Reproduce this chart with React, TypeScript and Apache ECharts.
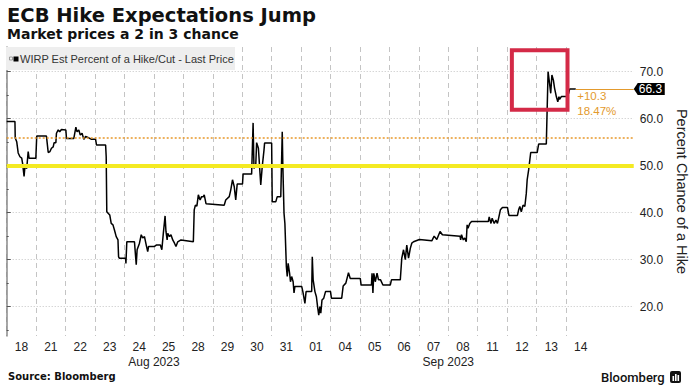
import React, { useEffect, useRef } from "react";
import * as echarts from "echarts";

// ---------- data ----------
const dayLabels = ["18", "21", "22", "23", "24", "25", "28", "29", "30", "31", "01", "04", "05", "06", "07", "08", "11", "12", "13", "14"];
const monthNames = ["Aug 2023", "Sep 2023"];
const monthCenters = [5, 15]; // trading-day positions where the month labels sit
const yMajorTicks = [20, 30, 40, 50, 60, 70];
const yMinorTicks = [15, 25, 35, 45, 55, 65];

// position in trading days since 18 Aug (fraction = intraday), value in %
const dayPos = [
  0.0, 0.28, 0.29, 0.34, 0.39, 0.45, 0.51, 0.54, 0.59, 0.62, 0.68, 0.73, 0.76, 0.99, 1.02, 1.35, 1.41, 1.47, 1.52, 1.58,
  1.61, 1.67, 1.69, 1.75, 1.8, 1.86, 2.01, 2.03, 2.28, 2.35, 2.39, 2.45, 2.5, 2.56, 2.62, 2.68, 2.76, 2.88, 3.02, 3.05,
  3.36, 3.38, 3.4, 3.5, 3.55, 3.61, 3.66, 3.72, 3.78, 3.8, 3.83, 4.04, 4.05, 4.08, 4.34, 4.4, 4.43, 4.51, 4.57, 4.62,
  4.68, 4.74, 4.79, 4.82, 5.02, 5.08, 5.22, 5.27, 5.32, 5.38, 5.41, 5.45, 5.47, 5.53, 5.58, 5.64, 5.7, 5.75, 5.81, 5.92,
  6.34, 6.37, 6.41, 6.46, 6.51, 6.57, 6.62, 6.68, 6.71, 6.77, 7.39, 7.44, 7.56, 7.61, 7.67, 7.73, 7.78, 7.83, 8.01, 8.03,
  8.32, 8.37, 8.4, 8.46, 8.49, 8.55, 8.63, 8.68, 8.74, 8.76, 9.0, 9.02, 9.14, 9.19, 9.31, 9.36, 9.38, 9.42, 9.45, 9.5,
  9.53, 9.56, 9.61, 9.64, 9.68, 9.73, 9.76, 9.79, 10.02, 10.06, 10.13, 10.17, 10.36, 10.38, 10.41, 10.47, 10.52, 10.56, 10.6, 10.64,
  10.67, 10.71, 10.77, 10.83, 11.0, 11.03, 11.38, 11.43, 11.52, 11.61, 11.67, 12.01, 12.04, 12.39, 12.41, 12.44, 12.47, 12.52, 12.58, 12.63,
  12.7, 12.78, 13.03, 13.07, 13.37, 13.42, 13.48, 13.54, 13.59, 13.65, 13.71, 13.76, 13.82, 14.02, 14.44, 14.52, 14.61, 14.72, 14.8, 15.4,
  15.42, 15.45, 15.51, 15.56, 15.61, 15.64, 15.67, 15.73, 15.79, 16.36, 16.39, 16.45, 16.49, 16.56, 16.62, 16.67, 16.72, 16.77, 16.84, 17.01,
  17.06, 17.35, 17.39, 17.43, 17.48, 17.54, 17.6, 17.65, 17.68, 17.73, 17.8, 18.02, 18.07, 18.33, 18.39, 18.44, 18.48, 18.52, 18.57, 18.61,
  18.67, 18.72, 18.76, 18.78, 18.84, 19.04, 19.09, 19.12, 19.33,
];
const pct = [
  59.4, 59.4, 55.9, 55.1, 52.7, 51.9, 51.6, 50.5, 47.7, 49.8, 49.4, 53.0, 51.6, 51.6, 56.3, 56.3, 52.8, 53.0, 53.7, 54.0,
  54.9, 54.9, 56.9, 57.6, 57.2, 57.7, 57.6, 55.8, 55.8, 58.2, 57.2, 57.6, 56.5, 56.9, 55.6, 56.2, 56.0, 55.6, 55.6, 54.4,
  54.4, 51.9, 40.2, 39.5, 37.7, 37.4, 36.3, 34.9, 34.2, 30.6, 30.3, 30.3, 29.2, 33.8, 33.8, 28.9, 32.1, 33.5, 35.3, 34.6,
  34.9, 33.1, 31.7, 32.8, 32.8, 33.1, 33.1, 32.1, 35.6, 39.3, 36.0, 34.2, 35.6, 34.9, 35.3, 34.2, 33.5, 32.8, 33.8, 34.2,
  33.8, 40.6, 41.6, 41.4, 43.8, 42.7, 43.4, 43.4, 43.8, 41.9, 41.6, 42.7, 43.4, 44.8, 47.0, 45.5, 42.7, 46.1, 46.1, 48.2,
  48.2, 59.1, 49.4, 50.1, 54.9, 53.7, 45.9, 49.8, 53.3, 54.8, 54.8, 42.3, 42.3, 43.4, 43.4, 57.2, 50.1, 39.9, 37.7, 28.5,
  26.4, 29.2, 27.1, 25.3, 26.4, 25.3, 22.9, 24.3, 24.3, 23.2, 20.7, 23.2, 23.2, 30.6, 25.7, 23.2, 22.1, 20.0, 18.2, 20.0,
  18.6, 21.4, 21.8, 23.2, 23.2, 21.8, 21.8, 24.4, 25.0, 27.2, 26.0, 26.0, 24.6, 24.6, 27.1, 22.9, 27.1, 25.3, 27.1, 25.7,
  25.7, 24.6, 24.6, 25.7, 25.7, 30.3, 32.1, 30.0, 33.1, 30.3, 32.4, 33.5, 33.8, 34.3, 34.0, 35.0, 34.3, 36.0, 35.3, 35.0,
  34.2, 35.3, 34.2, 34.6, 33.8, 37.4, 36.7, 37.7, 38.1, 38.1, 39.1, 37.7, 38.8, 37.7, 38.4, 37.7, 39.1, 40.6, 41.1, 41.1,
  39.4, 39.4, 40.6, 41.3, 40.2, 41.6, 41.3, 44.1, 47.0, 49.1, 52.8, 52.8, 54.6, 54.6, 70.0, 67.5, 65.4, 69.3, 68.2, 66.5,
  64.7, 63.6, 64.7, 64.1, 64.7, 64.7, 65.4, 66.3, 66.3,
];
const lastPrice = 66.3;
const referenceLevel = 56.0;
const thresholdLevel = 50;
const changeText = "+10.3";
const changePctText = "18.47%";
const boxDays = [17.16, 19.05];
const boxValues = [61.9, 74.55];

// ---------- layout ----------
const W = 697;
const H = 392;
const X_MIN = 0;
const X_MAX = 21.3;
const Y_MIN = 13.75;
const Y_MAX = 75.25;
const ORANGE = "#e39a2d";
const LABEL_FONT = "Liberation Sans, Arial, sans-serif";
const TITLE_FONT = "DejaVu Sans, Verdana, sans-serif";

export default function App() {
  const ref = useRef<HTMLDivElement>(null);

  useEffect(() => {
    if (!ref.current) return;
    const chart = echarts.init(ref.current, null, { renderer: "svg", width: W, height: H });
    const lastDay = dayPos[dayPos.length - 1];

    chart.setOption({
      animation: false,
      backgroundColor: "#ffffff",
      grid: { left: 6.7, right: 61, top: 47, bottom: 56, containLabel: false },
      xAxis: [
        {
          type: "value",
          position: "bottom",
          min: X_MIN,
          max: X_MAX,
          axisLine: { show: false },
          axisTick: { show: false, customValues: dayLabels.map((_, i) => i) },
          splitLine: { show: true, lineStyle: { color: "#c4c4c4", type: [5, 4], width: 1 } },
          axisLabel: {
            customValues: dayLabels.map((_, i) => i + 0.5),
            formatter: (v: number) => dayLabels[Math.floor(v)] ?? "",
            color: "#222",
            fontSize: 12,
            fontFamily: LABEL_FONT,
            margin: 5,
          },
        },
        {
          type: "value",
          position: "bottom",
          min: X_MIN,
          max: X_MAX,
          axisLine: { show: false },
          axisTick: { show: false },
          splitLine: { show: false },
          axisLabel: {
            customValues: monthCenters,
            formatter: (v: number) => monthNames[monthCenters.indexOf(v)] ?? "",
            color: "#222",
            fontSize: 12,
            fontFamily: LABEL_FONT,
            margin: 20,
          },
        },
      ],
      yAxis: [
        {
          type: "value",
          position: "right",
          min: Y_MIN,
          max: Y_MAX,
          axisLine: { show: true, lineStyle: { color: "#8a8a8a", width: 1.5 } },
          axisTick: { show: true, customValues: yMajorTicks, length: 4, lineStyle: { color: "#555" } },
          axisLabel: {
            customValues: yMajorTicks,
            formatter: (v: number) => v.toFixed(1),
            color: "#222",
            fontSize: 12,
            fontFamily: LABEL_FONT,
            margin: 6,
          },
          splitLine: { show: true, lineStyle: { color: "#c4c4c4", type: [1, 2], width: 1 } },
          name: "Percent Chance of a Hike",
          nameLocation: "middle",
          nameRotate: -90,
          nameGap: 38,
          nameTextStyle: { color: "#222", fontSize: 14.5, fontFamily: LABEL_FONT },
        },
        {
          type: "value",
          position: "right",
          min: Y_MIN,
          max: Y_MAX,
          axisLine: { show: false },
          axisTick: { show: true, customValues: yMinorTicks, length: 2, lineStyle: { color: "#555" } },
          axisLabel: { show: false },
          splitLine: { show: false },
        },
      ],
      series: [
        {
          type: "line",
          xAxisIndex: 0,
          yAxisIndex: 0,
          data: dayPos.map((d, i) => [d, pct[i]]),
          showSymbol: false,
          symbol: "none",
          lineStyle: { color: "#000", width: 1.5 },
          z: 3,
          markLine: {
            silent: true,
            symbol: "none",
            label: { show: false },
            z: 5,
            data: [
              { yAxis: thresholdLevel, lineStyle: { color: "#f4ea22", width: 4, type: "solid" } },
              { yAxis: referenceLevel, lineStyle: { color: "#e8982a", width: 1.5, type: [2, 2], opacity: 1 } },
              [
                { coord: [lastDay, lastPrice], lineStyle: { color: ORANGE, width: 1, type: "solid" } },
                { coord: [X_MAX, lastPrice] },
              ],
            ],
          },
          markArea: {
            silent: true,
            z: 6,
            itemStyle: { color: "rgba(0,0,0,0)", borderColor: "#d42a47", borderWidth: 4 },
            data: [[{ coord: [boxDays[0], boxValues[1]] }, { coord: [boxDays[1], boxValues[0]] }]],
          },
        },
      ],
    });

    // annotations positioned through the chart's own scales
    const [lx, ly] = chart.convertToPixel({ xAxisIndex: 0, yAxisIndex: 0 }, [lastDay, lastPrice]) as number[];
    const axisX = chart.convertToPixel({ xAxisIndex: 0 }, X_MAX) as number;

    chart.setOption({
      graphic: [
        // title & subtitle
        { type: "text", left: 7, top: 5, style: { text: "ECB Hike Expectations Jump", fill: "#111", font: `bold 19.5px ${TITLE_FONT}` } },
        { type: "text", left: 7, top: 27, style: { text: "Market prices a 2 in 3 chance", fill: "#111", font: `bold 14px ${TITLE_FONT}` } },
        // legend
        { type: "rect", shape: { x: 6, y: 47, width: 229, height: 23 }, style: { fill: "#eeeeee" }, z: 10 },
        { type: "rect", shape: { x: 9.5, y: 57, width: 3, height: 3 }, style: { fill: "none", stroke: "#888", lineWidth: 0.8 }, z: 11 },
        { type: "rect", shape: { x: 13.5, y: 56.5, width: 5, height: 5 }, style: { fill: "#000" }, z: 11 },
        {
          type: "text",
          x: 20,
          y: 59,
          z: 11,
          style: { text: "WIRP Est Percent of a Hike/Cut - Last Price", fill: "#333", font: `11px ${LABEL_FONT}`, verticalAlign: "middle" },
        },
        // change annotation
        { type: "text", x: lx + 1.5, y: ly + 7, z: 12, style: { text: changeText, fill: ORANGE, font: `11.5px ${LABEL_FONT}`, verticalAlign: "middle" } },
        { type: "text", x: lx + 1.5, y: ly + 22, z: 12, style: { text: changePctText, fill: ORANGE, font: `11.5px ${LABEL_FONT}`, verticalAlign: "middle" } },
        // last price tag
        {
          type: "polygon",
          z: 12,
          shape: {
            points: [
              [axisX, ly],
              [axisX + 4, ly - 6],
              [axisX + 31, ly - 6],
              [axisX + 31, ly + 6],
              [axisX + 4, ly + 6],
            ],
          },
          style: { fill: "#000" },
        },
        {
          type: "text",
          x: axisX + 5,
          y: ly,
          z: 13,
          style: { text: lastPrice.toFixed(1), fill: "#fff", font: `12px ${LABEL_FONT}`, verticalAlign: "middle" },
        },
        // footer
        { type: "text", left: 8, top: 371, style: { text: "Source: Bloomberg", fill: "#111", font: `bold 10px ${TITLE_FONT}` } },
        { type: "text", x: 601, y: 377, style: { text: "Bloomberg", fill: "#111", font: `500 13px Roboto, ${LABEL_FONT}`, verticalAlign: "middle" } },
        { type: "rect", shape: { x: 670, y: 371, width: 11, height: 12, r: 2 }, style: { fill: "#111" } },
        { type: "rect", shape: { x: 672.5, y: 376, width: 1.6, height: 5 }, style: { fill: "#fff" } },
        { type: "rect", shape: { x: 675, y: 374, width: 1.6, height: 7 }, style: { fill: "#fff" } },
        { type: "rect", shape: { x: 677.5, y: 375, width: 1.6, height: 6 }, style: { fill: "#fff" } },
      ],
    });

    return () => chart.dispose();
  }, []);

  return <div ref={ref} style={{ position: "fixed", left: 0, top: 0, width: W, height: H }} />;
}
